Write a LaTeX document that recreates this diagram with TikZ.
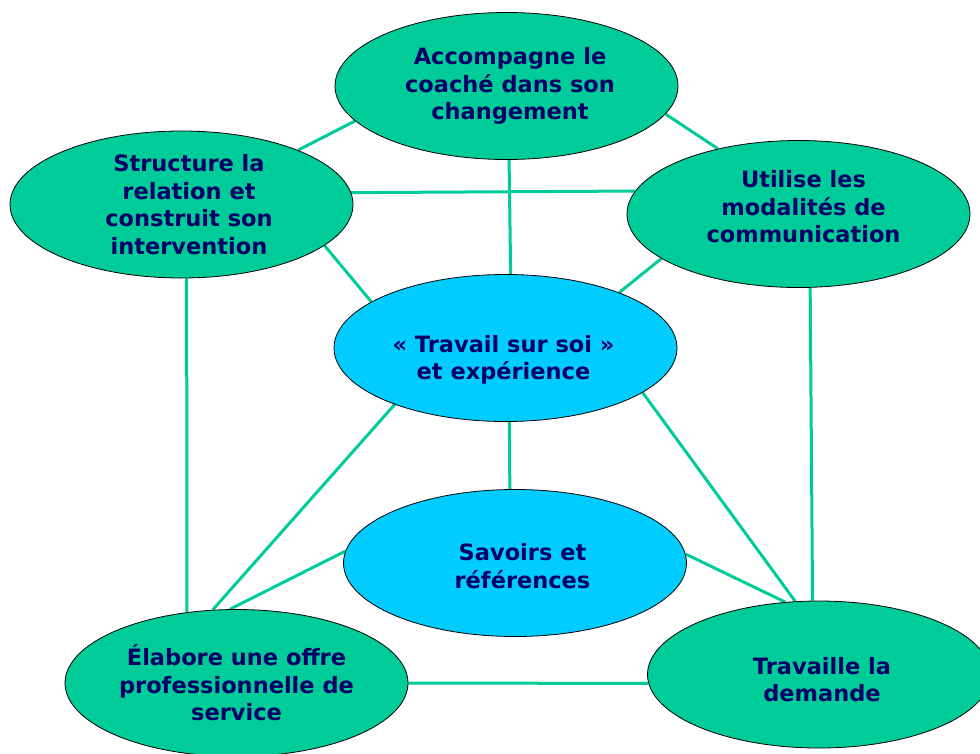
\documentclass[tikz,border=0pt]{standalone}
\usepackage{fontspec}
\setmainfont{DejaVu Sans}
\usetikzlibrary{shapes.geometric,backgrounds}
\definecolor{myGreen}{RGB}{0,204,153}
\definecolor{myCyan}{RGB}{0,204,255}
\definecolor{myNavy}{RGB}{0,0,102}
\tikzset{%%
  bulle/.style={ellipse, draw=black, line width=0.8pt,
    minimum width=343pt, minimum height=147pt},
  vert/.style={bulle, fill=myGreen},
  bleu/.style={bulle, fill=myCyan},
  txt/.style={align=center, inner sep=0pt, text=myNavy,
    font=\bfseries\fontsize{22.5}{27.5}\selectfont},
  lien/.style={myGreen, line width=3pt}
  }

\begin{document}
\begin{tikzpicture}[x=1pt,y=-1pt]
  \useasboundingbox (0,0) rectangle (980,753);
  \node[vert] (accomp) at (506.5,86) {};
  \node[vert] (struct) at (181.5,204.5) {};
  \node[vert] (utilise) at (798.5,214) {};
  \node[bleu] (travail) at (505.5,348) {};
  \node[bleu] (savoirs) at (515,563) {};
  \node[vert] (elabore) at (236.5,683) {};
  \node[vert] (demande) at (819,674.5) {};
  \node[txt] (accomp-t) at ([shift={(3.5,0)}]accomp) {Accompagne le\\coaché dans son\\changement};
  \node[txt] (struct-t) at ([shift={(7.5,0)}]struct) {Structure la\\relation et\\construit son\\intervention};
  \node[txt] (utilise-t) at ([shift={(5,-7)}]utilise) {Utilise les\\modalités de\\communication};
  \node[txt] (travail-t) at ([shift={(-2,12)}]travail) {« Travail sur soi »\\et expérience};
  \node[txt] (savoirs-t) at ([shift={(7.5,3)}]savoirs) {Savoirs et\\références};
  \node[txt] (elabore-t) at (elabore) {Élabore une offre\\professionnelle de\\service};
  \node[txt] (demande-t) at ([shift={(3,5)}]demande) {Travaille la\\demande};
  \begin{scope}[on background layer]
    \draw[lien] (accomp.193) -- (struct.25);
    \draw[lien] (accomp.350) -- (utilise.141);
    \draw[lien] (struct.4.5) -- (utilise.172);
    \draw[lien] (accomp.272.7) -- (travail.86.5);
    \draw[lien] (struct.344) -- (travail.161);
    \draw[lien] (utilise.198) -- (travail.26);
    \draw[lien] (struct.274) -- (elabore.125);
    \draw[lien] (utilise.279) -- (demande.95);
    \draw[lien] (travail.273.5) -- (savoirs.94);
    \draw[lien] (travail.207.5) -- (elabore.108.5);
    \draw[lien] (travail.342) -- (demande.108);
    \draw[lien] (savoirs.176) -- (elabore.95);
    \draw[lien] (savoirs.3.3) -- (demande.115);
    \draw[lien] (elabore.east) -- (demande.183);
  \end{scope}
\end{tikzpicture}
\end{document}
